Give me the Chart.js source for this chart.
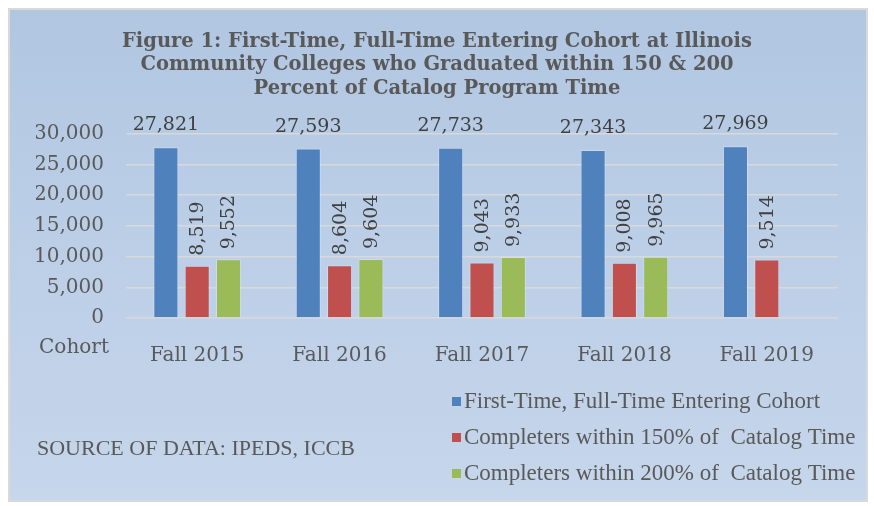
<!DOCTYPE html>
<html>
<head>
<meta charset="utf-8">
<script src="https://cdn.jsdelivr.net/npm/chart.js@4"></script>
<style>
  html, body { margin: 0; padding: 0; background: #ffffff; }
  #frame {
    position: absolute; left: 8px; top: 8px; width: 856px; height: 490px;
    border: 2px solid #d9d9d9;
    background: linear-gradient(to bottom, #b1c6e1 0%, #bccfe7 50%, #c6d6eb 100%);
  }
  #wrap { position: absolute; left: 0; top: 0; width: 874px; height: 506px; }
</style>
</head>
<body>
<div id="frame"></div>
<div id="wrap"><canvas id="cohortChart" width="874" height="506"></canvas></div>
<script>
// Cohort years and series values
const cohortYears = ['Fall 2015', 'Fall 2016', 'Fall 2017', 'Fall 2018', 'Fall 2019'];
const enteringCohort = [27821, 27593, 27733, 27343, 27969];
const completers150 = [8519, 8604, 9043, 9008, 9514];
const completers200 = [9552, 9604, 9933, 9965, null];
const seriesNames = [
    'First-Time, Full-Time Entering Cohort',
    'Completers within 150% of  Catalog Time',
    'Completers within 200% of  Catalog Time'
];
const seriesColors = ['#4f81bd', '#c0504d', '#9bbb59'];
const titleLines = [
    'Figure 1: First-Time, Full-Time Entering Cohort at Illinois',
    'Community Colleges who Graduated within 150 & 200',
    'Percent of Catalog Program Time'
];
const sourceNote = 'SOURCE OF DATA: IPEDS, ICCB';

const textColor = '#595959';
const serifFace = '"DejaVu Serif", "Liberation Serif", serif';

// Value labels: horizontal over the cohort bars, rotated over the completer bars
const valueLabelPlugin = {
    id: 'valueLabels',
    afterDatasetsDraw(chart) {
        const ctx = chart.ctx;
        ctx.save();
        ctx.fillStyle = '#404040';
        ctx.font = '19px ' + serifFace;
        chart.data.datasets.forEach((ds, di) => {
            const meta = chart.getDatasetMeta(di);
            meta.data.forEach((bar, i) => {
                const v = ds.data[i];
                if (v === null || v === undefined) return;
                const label = v.toLocaleString('en-US');
                if (di === 0) {
                    ctx.textAlign = 'center';
                    ctx.textBaseline = 'middle';
                    ctx.fillText(label, bar.x, bar.y - 22);
                } else {
                    ctx.save();
                    ctx.translate(bar.x, bar.y - 10);
                    ctx.rotate(-Math.PI / 2);
                    ctx.textAlign = 'left';
                    ctx.textBaseline = 'middle';
                    ctx.fillText(label, 0, 1);
                    ctx.restore();
                }
            });
        });
        ctx.restore();
    }
};

// "Cohort" axis caption, source note and the stacked legend at the bottom right
const extrasPlugin = {
    id: 'extras',
    afterDraw(chart) {
        const ctx = chart.ctx;
        ctx.save();
        ctx.fillStyle = textColor;
        ctx.textBaseline = 'middle';

        ctx.font = '20px ' + serifFace;
        ctx.textAlign = 'center';
        ctx.fillText('Cohort', 74, 348);

        ctx.font = '22px "Liberation Serif", serif';
        ctx.textAlign = 'left';
        ctx.fillText(sourceNote, 37, 449);

        ctx.font = '23px "Liberation Serif", serif';
        seriesNames.forEach((name, i) => {
            const y = 402 + i * 36;
            ctx.fillStyle = seriesColors[i];
            ctx.fillRect(452, y - 5, 9, 9);
            ctx.fillStyle = textColor;
            ctx.fillText(name, 464, y);
        });
        ctx.restore();
    }
};

const ctx = document.getElementById('cohortChart').getContext('2d');
new Chart(ctx, {
    type: 'bar',
    data: {
        labels: cohortYears,
        datasets: [enteringCohort, completers150, completers200].map((vals, i) => ({
            label: seriesNames[i],
            data: vals,
            backgroundColor: seriesColors[i],
            borderColor: 'rgba(255,255,255,0.25)',
            borderWidth: 1,
            barPercentage: 0.8,
            categoryPercentage: 0.66
        }))
    },
    options: {
        responsive: false,
        animation: false,
        layout: { padding: { left: 36, right: 36, top: 0, bottom: 138 } },
        plugins: {
            legend: { display: false },
            tooltip: { enabled: false },
            title: {
                display: true,
                text: titleLines,
                color: textColor,
                font: { family: serifFace, size: 19.5, weight: 'bold', lineHeight: 1.21 },
                padding: { top: 30, bottom: 33 }
            }
        },
        scales: {
            x: {
                grid: { display: false },
                border: { display: false },
                ticks: { color: textColor, font: { family: serifFace, size: 20 }, padding: 18 },
                afterFit(scale) { scale.height = 50; }
            },
            y: {
                min: 0,
                max: 30000,
                ticks: { stepSize: 5000, color: textColor, font: { family: serifFace, size: 20 }, padding: 22 },
                grid: { color: '#d9d9d9', lineWidth: 1.5, drawTicks: false },
                border: { display: false },
                afterFit(scale) { scale.width = 90; }
            }
        }
    },
    plugins: [valueLabelPlugin, extrasPlugin]
});
</script>
</body>
</html>
